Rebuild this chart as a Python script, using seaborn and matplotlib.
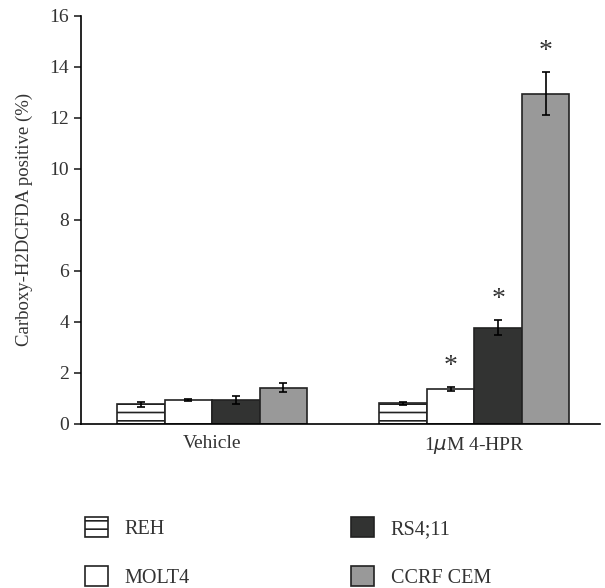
import pandas as pd
import numpy as np
import matplotlib.pyplot as plt
import seaborn as sns
from matplotlib.patches import Patch

sns.set_style('white')
plt.rcParams['font.family'] = ['Liberation Serif', 'DejaVu Serif']
plt.rcParams['hatch.linewidth'] = 1.2

treatments = ['Vehicle', '1$\\mu$M 4-HPR']
cell_lines = ['REH', 'MOLT4', 'RS4;11', 'CCRF CEM']
vehicle_vals = [0.78, 0.95, 0.95, 1.42]
vehicle_err = [0.10, 0.04, 0.16, 0.18]
hpr_vals = [0.82, 1.38, 3.78, 12.95]
hpr_err = [0.06, 0.08, 0.30, 0.85]
significant = [False, True, True, True]

colors = ['white', 'white', '#323332', '#999999']
hatches = ['--', '', '', '']

df = pd.DataFrame({
    'treatment': [treatments[0]] * 4 + [treatments[1]] * 4,
    'cell': cell_lines * 2,
    'value': vehicle_vals + hpr_vals,
    'err': vehicle_err + hpr_err,
})

fig = plt.figure(figsize=(6.05, 5.88), dpi=100)
ax = fig.add_axes([0.134, 0.279, 0.858, 0.694])

sns.barplot(
    data=df,
    x='treatment',
    y='value',
    hue='cell',
    hue_order=cell_lines,
    palette=colors,
    width=0.725,
    edgecolor='#222222',
    linewidth=1.2,
    errorbar=None,
    legend=False,
    ax=ax
)

# style bars per cell line and add error bars
for i, cell in enumerate(cell_lines):
    cont = ax.containers[i]
    for j, bar in enumerate(cont):
        bar.set_hatch(hatches[i])
        bar.set_facecolor(colors[i])
        x = bar.get_x() + bar.get_width() / 2
        sub = df[(df.cell == cell) & (df.treatment == treatments[j])]
        v = sub.value.values[0]
        e = sub.err.values[0]
        ax.errorbar(x, v, yerr=e, color='black', capsize=2.7, elinewidth=1.2,
                    capthick=1.2, zorder=5)
        if j == 1 and significant[i]:
            ax.text(x, v + e + 0.3, '*', ha='center', va='bottom',
                    fontsize=20, color='#333333')

ax.set_ylim(0, 16)
ax.set_xlim(-0.5, 1.48)
ax.set_yticks(range(0, 17, 2))
ax.set_xlabel('')
ax.set_ylabel('Carboxy-H2DCFDA positive (%)', fontsize=13.5, color='#333333',
              labelpad=12)
ax.tick_params(axis='y', direction='out', length=5, width=1.2, left=True,
               labelsize=14, labelcolor='#333333')
ax.tick_params(axis='x', length=0, labelsize=14, labelcolor='#333333', pad=8)

for side in ['top', 'right']:
    ax.spines[side].set_visible(False)
for side in ['left', 'bottom']:
    ax.spines[side].set_color('black')
    ax.spines[side].set_linewidth(1.2)

handles = [Patch(facecolor=colors[i], edgecolor='#222222', hatch=hatches[i],
                 linewidth=1.2, label=cell_lines[i]) for i in range(4)]
fig.legend(handles=handles, ncol=2, loc='lower left',
           bbox_to_anchor=(0.11, -0.031), frameon=False, fontsize=14.5,
           handlelength=1.15, handleheight=1.15, columnspacing=8.05,
           labelspacing=1.35, handletextpad=0.8, labelcolor='#333333')

fig.savefig('out.png', dpi=100)
